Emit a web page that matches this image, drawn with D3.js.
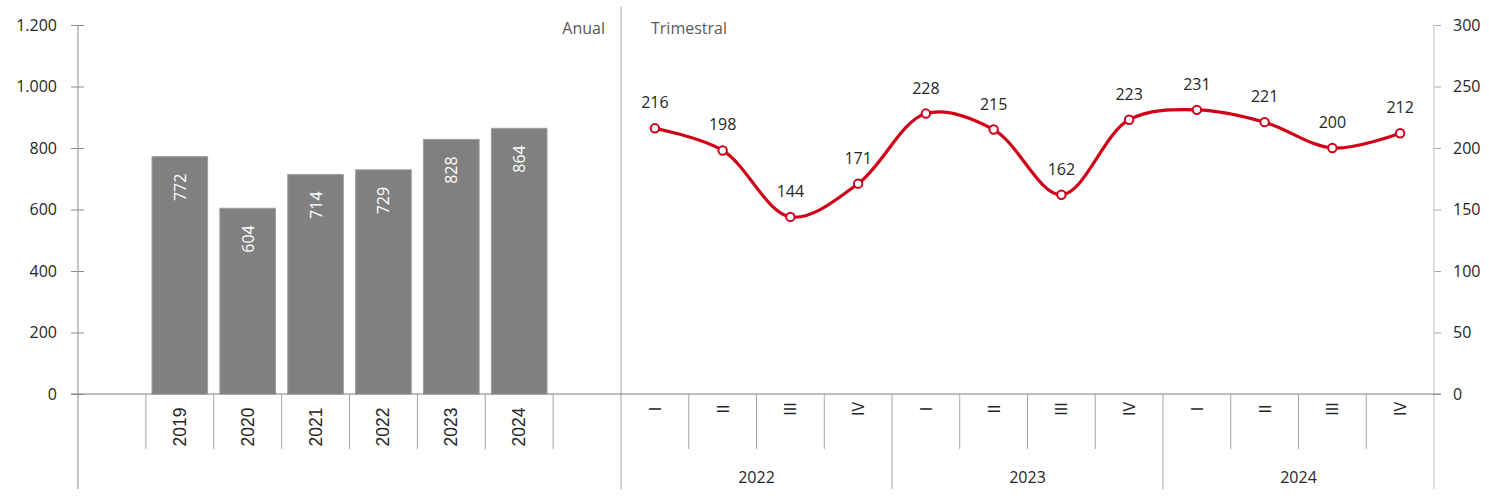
<!DOCTYPE html>
<html>
<head>
<meta charset="utf-8">
<script src="https://cdn.jsdelivr.net/npm/d3@7"></script>
<style>
  body { margin: 0; background: #fff; }
  svg { display: block; }
</style>
</head>
<body>
<script>
"use strict";

// annual values (left axis)
var years = ["2019", "2020", "2021", "2022", "2023", "2024"];
var annual = [772, 604, 714, 729, 828, 864];
var leftTicks = [0, 200, 400, 600, 800, 1000, 1200];

// quarterly values (right axis)
var quarterYears = ["2022", "2023", "2024"];
var quarterNames = ["I", "II", "III", "IV"];
var quarterly = [216, 198, 144, 171, 228, 215, 162, 223, 231, 221, 200, 212];
var rightTicks = [0, 50, 100, 150, 200, 250, 300];

var width = 1489, height = 498;
var x0 = 78, xMid = 621, x1 = 1434;
var yTop = 25, yBase = 394, yInner = 449, yOuter = 489;
var font = "'Open Sans', 'Noto Sans', sans-serif";

var es = d3.formatLocale({ decimal: ",", thousands: ".", grouping: [3], currency: ["", ""] });
var fmt = es.format(",");

var svg = d3.select("body").append("svg")
    .attr("width", width)
    .attr("height", height);

/*
  scales
*/
var yLeft = d3.scaleLinear().domain([0, 1200]).range([yBase, yTop]);
var yRight = d3.scaleLinear().domain([0, 300]).range([yBase, yTop]);

// left panel has an empty slot on each side of the years
var leftSlots = ["_pre"].concat(years).concat(["_post"]);
var xLeft = d3.scaleBand().domain(leftSlots).range([x0, xMid]);

var qKeys = [];
quarterYears.forEach(function (y) {
  quarterNames.forEach(function (q) { qKeys.push(y + "-" + q); });
});
var xRight = d3.scaleBand().domain(qKeys).range([xMid, x1]);

var annualData = years.map(function (y, i) { return { year: y, value: annual[i] }; });
var quarterData = qKeys.map(function (k, i) {
  return { key: k, year: k.split("-")[0], q: k.split("-")[1], value: quarterly[i] };
});

/*
  axes
*/
var gl = svg.append("g").attr("transform", "translate(" + x0 + ",0)")
    .call(d3.axisLeft(yLeft).tickValues(leftTicks).tickFormat(fmt).tickSize(7).tickPadding(14));
gl.select(".domain").remove();
gl.selectAll(".tick line").attr("stroke", "#8c8c8c").attr("x2", 6).attr("x1", -7);
gl.selectAll(".tick text")
    .style("font-family", font).style("font-size", "16px").attr("fill", "#262626");

var gr = svg.append("g").attr("transform", "translate(" + x1 + ",0)")
    .call(d3.axisRight(yRight).tickValues(rightTicks).tickSize(7).tickPadding(12));
gr.select(".domain").remove();
gr.selectAll(".tick line").attr("stroke", "#a6a6a6");
gr.selectAll(".tick text")
    .style("font-family", font).style("font-size", "16px").attr("fill", "#262626");

// vertical axis lines
svg.append("line").attr("x1", x0).attr("x2", x0).attr("y1", yTop).attr("y2", yOuter)
    .attr("stroke", "#8c8c8c");
svg.append("line").attr("x1", x1).attr("x2", x1).attr("y1", yTop).attr("y2", yOuter)
    .attr("stroke", "#bfbfbf");
svg.append("line").attr("x1", xMid).attr("x2", xMid).attr("y1", 7).attr("y2", yOuter)
    .attr("stroke", "#a6a6a6");

/*
  bars
*/
var barW = xLeft.bandwidth() * 0.82;
svg.selectAll("rect.bar")
    .data(annualData)
    .enter()
    .append("rect")
      .attr("class", "bar")
      .attr("x", function (d) { return xLeft(d.year) + (xLeft.bandwidth() - barW) / 2; })
      .attr("y", function (d) { return yLeft(d.value); })
      .attr("width", barW)
      .attr("height", function (d) { return yBase - yLeft(d.value); })
      .attr("fill", "#808080")
      .attr("stroke", "#a0a0a0")
      .attr("stroke-width", 1);

svg.selectAll("text.barval")
    .data(annualData)
    .enter()
    .append("text")
      .attr("class", "barval")
      .attr("transform", function (d) {
        return "translate(" + (xLeft(d.year) + xLeft.bandwidth() / 2 + 6) + "," + (yLeft(d.value) + 17) + ") rotate(-90)";
      })
      .attr("text-anchor", "end")
      .style("font-family", font)
      .style("font-size", "16px")
      .attr("fill", "#fff")
      .text(function (d) { return d.value; });

// baseline
svg.append("line").attr("x1", 71).attr("x2", 1441).attr("y1", yBase).attr("y2", yBase)
    .attr("stroke", "#7f7f7f");

/*
  category axis, left panel
*/
leftSlots.slice(1).forEach(function (s) {
  var xx = xLeft(s);
  svg.append("line").attr("x1", xx).attr("x2", xx).attr("y1", yBase).attr("y2", yInner)
      .attr("stroke", "#a6a6a6");
});
svg.selectAll("text.yearlab")
    .data(years)
    .enter()
    .append("text")
      .attr("class", "yearlab")
      .attr("transform", function (d) {
        return "translate(" + (xLeft(d) + xLeft.bandwidth() / 2 + 6) + ",427) rotate(-90)";
      })
      .attr("text-anchor", "middle")
      .style("font-family", "'Liberation Sans', Arial, sans-serif")
      .style("font-size", "17.5px")
      .attr("fill", "#262626")
      .text(function (d) { return d; });

/*
  category axis, right panel
*/
qKeys.forEach(function (k, i) {
  if (i === 0) return;
  var xx = xRight(k);
  var outer = (i % 4 === 0);
  svg.append("line").attr("x1", xx).attr("x2", xx).attr("y1", yBase).attr("y2", outer ? yOuter : yInner)
      .attr("stroke", "#a6a6a6");
});
svg.selectAll("text.qlab")
    .data(quarterData)
    .enter()
    .append("text")
      .attr("class", "qlab")
      .attr("transform", function (d) {
        return "translate(" + (xRight(d.key) + xRight.bandwidth() / 2 + 6) + ",409) rotate(-90)";
      })
      .attr("text-anchor", "middle")
      .style("font-family", font)
      .style("font-size", "16px")
      .attr("fill", "#262626")
      .text(function (d) { return d.q; });

svg.selectAll("text.qyear")
    .data(quarterYears)
    .enter()
    .append("text")
      .attr("class", "qyear")
      .attr("x", function (y) {
        return (xRight(y + "-I") + xRight(y + "-IV") + xRight.bandwidth()) / 2;
      })
      .attr("y", 483)
      .attr("text-anchor", "middle")
      .style("font-family", font)
      .style("font-size", "16px")
      .attr("fill", "#262626")
      .text(function (d) { return d; });

/*
  panel titles
*/
svg.append("text").attr("x", 605).attr("y", 34).attr("text-anchor", "end")
    .style("font-family", font).style("font-size", "16px").attr("fill", "#595959")
    .text("Anual");
svg.append("text").attr("x", 651).attr("y", 34)
    .style("font-family", font).style("font-size", "16px").attr("fill", "#595959")
    .text("Trimestral");

/*
  quarterly line
*/
var cx = function (d) { return xRight(d.key) + xRight.bandwidth() / 2; };
var line = d3.line()
    .x(cx)
    .y(function (d) { return yRight(d.value); })
    .curve(d3.curveCatmullRom.alpha(0.5));

svg.append("path")
    .datum(quarterData)
    .attr("d", line)
    .attr("fill", "none")
    .attr("stroke", "#d10019")
    .attr("stroke-width", 3.2);

svg.selectAll("circle.pt")
    .data(quarterData)
    .enter()
    .append("circle")
      .attr("class", "pt")
      .attr("cx", cx)
      .attr("cy", function (d) { return yRight(d.value); })
      .attr("r", 4.2)
      .attr("fill", "#fff")
      .attr("stroke", "#d10019")
      .attr("stroke-width", 2);

svg.selectAll("text.ptlab")
    .data(quarterData)
    .enter()
    .append("text")
      .attr("class", "ptlab")
      .attr("x", cx)
      .attr("y", function (d) { return yRight(d.value) - 20; })
      .attr("text-anchor", "middle")
      .style("font-family", font)
      .style("font-size", "16px")
      .attr("fill", "#262626")
      .text(function (d) { return d.value; });
</script>
</body>
</html>
